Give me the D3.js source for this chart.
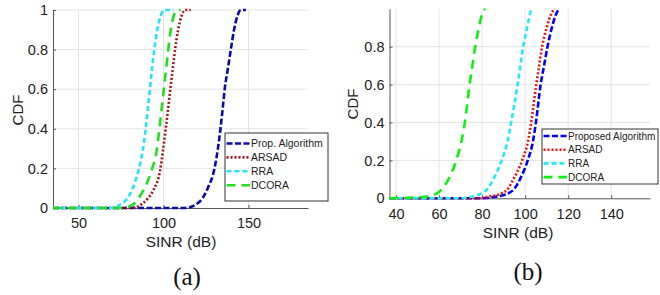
<!DOCTYPE html>
<html><head><meta charset="utf-8">
<script src="https://cdn.jsdelivr.net/npm/d3@7"></script>
<style>
body{margin:0;background:#fff;}
svg{display:block;font-family:"Liberation Sans",Arial,sans-serif;}
</style></head>
<body><svg id="c" width="660" height="295"></svg>
<script>
// ---------- Data: chart (a) ----------
const aXTicks = [50, 100, 150];
const aYTicks = [0, 0.2, 0.4, 0.6, 0.8, 1];
const aPropX  = [35, 112, 116, 119.5, 123, 126, 130, 132, 133.5, 134.8, 136, 137.8, 139.6, 141.5, 143.5, 145.5, 148.5];
const aPropY  = [0, 0, 0.005, 0.02, 0.05, 0.1, 0.2, 0.3, 0.4, 0.5, 0.6, 0.7, 0.8, 0.9, 0.97, 1, 1];
const aArsadX = [35, 80, 84, 88, 91, 94, 98, 99.7, 101.3, 102.7, 104, 105.4, 106.8, 108.6, 110.6, 113, 116];
const aArsadY = [0, 0, 0.005, 0.025, 0.05, 0.09, 0.19, 0.29, 0.4, 0.5, 0.6, 0.7, 0.8, 0.9, 0.97, 1, 1];
const aRraX   = [35, 68, 72, 75, 78, 81.4, 85.3, 87.8, 89.5, 90.8, 92, 93.2, 94.6, 96.3, 98.3, 100.5, 106];
const aRraY   = [0, 0, 0.005, 0.02, 0.04, 0.09, 0.19, 0.29, 0.4, 0.5, 0.6, 0.7, 0.8, 0.9, 0.97, 1, 1];
const aDcoraX = [35, 76, 79, 82.4, 85, 88.2, 93, 96, 97.6, 98.9, 100.2, 101.5, 102.8, 104.3, 106, 108, 110];
const aDcoraY = [0, 0, 0.005, 0.02, 0.045, 0.09, 0.19, 0.29, 0.4, 0.5, 0.6, 0.7, 0.8, 0.9, 0.97, 1, 1];
const aLegend = ["Prop. Algorithm", "ARSAD", "RRA", "DCORA"];

// ---------- Data: chart (b) ----------
const bXTicks = [40, 60, 80, 100, 120, 140];
const bYTicks = [0, 0.2, 0.4, 0.6, 0.8];
const bY      = [0, 0, 0.008, 0.026, 0.05, 0.1, 0.2, 0.31, 0.4, 0.6, 0.7, 0.8, 0.9, 0.97, 1];
const bPropX  = [37, 80.5, 86, 92.2, 95, 97.6, 101.2, 103.8, 105, 107.2, 108.8, 110.4, 112.4, 114.3, 115.8];
const bArsadX = [37, 77, 83, 89, 92, 94.5, 98.6, 101.5, 102.8, 105.2, 106.5, 107.9, 110, 112, 113.8];
const bRraX   = [37, 70, 75, 79.8, 82.5, 85.2, 89.1, 92, 93.5, 96.5, 97.8, 99.1, 100.9, 102.2, 103];
const bDcoraX = [37, 45, 53.5, 56.5, 59, 61.5, 64.4, 68, 70.6, 72, 74.2, 75.5, 76.8, 78.5, 80, 81.4];
const bDcoraY = [0, 0.003, 0.008, 0.015, 0.026, 0.05, 0.1, 0.2, 0.31, 0.4, 0.6, 0.7, 0.8, 0.9, 0.97, 1];
const bLegend = ["Proposed Algorithm", "ARSAD", "RRA", "DCORA"];

const svg = d3.select("#c");

function drawChart(cfg) {
  const g = svg.append("g");
  const x = d3.scaleLinear().domain(cfg.xDomain).range([cfg.left, cfg.right]);
  const y = d3.scaleLinear().domain([0, 1]).range([cfg.bottom, cfg.top]);
  // grid
  g.append("g").selectAll("line").data(cfg.xTicks).join("line")
    .attr("x1", d => x(d)).attr("x2", d => x(d))
    .attr("y1", cfg.top).attr("y2", cfg.bottom)
    .attr("stroke", "#e4e4e4").attr("stroke-width", 1);
  g.append("g").selectAll("line").data(cfg.gridY).join("line")
    .attr("x1", cfg.left).attr("x2", cfg.right)
    .attr("y1", d => y(d)).attr("y2", d => y(d))
    .attr("stroke", "#e4e4e4").attr("stroke-width", 1);
  // axes
  const xa = g.append("g").attr("transform", `translate(0,${cfg.bottom})`)
    .call(d3.axisBottom(x).tickValues(cfg.xTicks).tickSizeInner(-3).tickSizeOuter(0).tickPadding(10));
  const ya = g.append("g").attr("transform", `translate(${cfg.left},0)`)
    .call(d3.axisLeft(y).tickValues(cfg.yTicks).tickSizeInner(-3).tickSizeOuter(0).tickPadding(5)
      .tickFormat(d => d3.format("~g")(d)));
  [xa, ya].forEach(a => {
    a.select(".domain").attr("stroke", "#555");
    a.selectAll(".tick line").attr("stroke", "#555");
    a.selectAll(".tick text").attr("font-size", 14.5).attr("fill", "#222")
      .attr("font-family", '"Liberation Sans",Arial,sans-serif');
  });
  // curves
  const line = d3.line().x(d => x(d[0])).y(d => y(d[1])).curve(d3.curveMonotoneX);
  cfg.series.forEach(s => {
    const pts = s.x.map((v, i) => [v, s.y[i]]);
    g.append("path").attr("d", line(pts)).attr("fill", "none")
      .attr("stroke", s.color).attr("stroke-width", 2.6)
      .attr("stroke-dasharray", s.dash);
  });
  // labels
  g.append("text").attr("x", cfg.xLabelX).attr("y", cfg.xLabelY).attr("text-anchor", "middle")
    .attr("font-size", 15.5).attr("fill", "#222").text("SINR (dB)");
  g.append("text").attr("transform", `translate(${cfg.yLabelX},${cfg.yLabelY}) rotate(-90)`)
    .attr("text-anchor", "middle").attr("font-size", 15).attr("fill", "#222").text("CDF");
  g.append("text").attr("x", cfg.capX).attr("y", cfg.capY).attr("text-anchor", "middle")
    .attr("font-family", '"Liberation Serif","Times New Roman",serif')
    .attr("font-size", 25).attr("fill", "#111").text(cfg.caption);
  // legend
  const L = cfg.legend;
  const lg = g.append("g");
  lg.append("rect").attr("x", L.x).attr("y", L.y).attr("width", L.w).attr("height", L.h)
    .attr("fill", "#fff").attr("stroke", "#333").attr("stroke-width", 1);
  cfg.series.forEach((s, i) => {
    const yy = L.y + L.first + i * L.step;
    lg.append("line").attr("x1", L.x + 1.5).attr("x2", L.x + 25).attr("y1", yy).attr("y2", yy)
      .attr("stroke", s.color).attr("stroke-width", 2.6).attr("stroke-dasharray", s.dash);
    lg.append("text").attr("x", L.x + 26).attr("y", yy).attr("dy", "0.35em")
      .attr("font-size", L.fs).attr("fill", "#222").text(L.names[i]);
  });
}

drawChart({
  xDomain: [35, 185], left: 53, right: 308, top: 10, bottom: 208,
  xTicks: aXTicks, yTicks: aYTicks, gridY: [0.2, 0.4, 0.6, 0.8, 1],
  xLabelX: 181, xLabelY: 247, yLabelX: 23, yLabelY: 110,
  capX: 187, capY: 285, caption: "(a)",
  series: [
    {x: aPropX,  y: aPropY,  color: "#0a0aa8", dash: "6,2.5"},
    {x: aArsadX, y: aArsadY, color: "#a3141b", dash: "2,2"},
    {x: aRraX,   y: aRraY,   color: "#22e6ee", dash: "5,3"},
    {x: aDcoraX, y: aDcoraY, color: "#22dd22", dash: "9,6"}
  ],
  legend: {x: 225, y: 133, w: 103, h: 68, first: 10.5, step: 13.9, fs: 10.5, names: aLegend}
});

drawChart({
  xDomain: [37, 158], left: 389.5, right: 650, top: 8.8, bottom: 198.3,
  xTicks: bXTicks, yTicks: bYTicks, gridY: [0.2, 0.4, 0.6, 0.8],
  xLabelX: 518, xLabelY: 238, yLabelX: 358, yLabelY: 104,
  capX: 528, capY: 280, caption: "(b)",
  series: [
    {x: bPropX,  y: bY,      color: "#0000ee", dash: "6,2.5"},
    {x: bArsadX, y: bY,      color: "#ee1111", dash: "2,2"},
    {x: bRraX,   y: bY,      color: "#22eeee", dash: "5,3"},
    {x: bDcoraX, y: bDcoraY, color: "#11ee11", dash: "9,6"}
  ],
  legend: {x: 542, y: 129, w: 116, h: 55, first: 7, step: 13.7, fs: 10, names: bLegend}
});
</script></body></html>
